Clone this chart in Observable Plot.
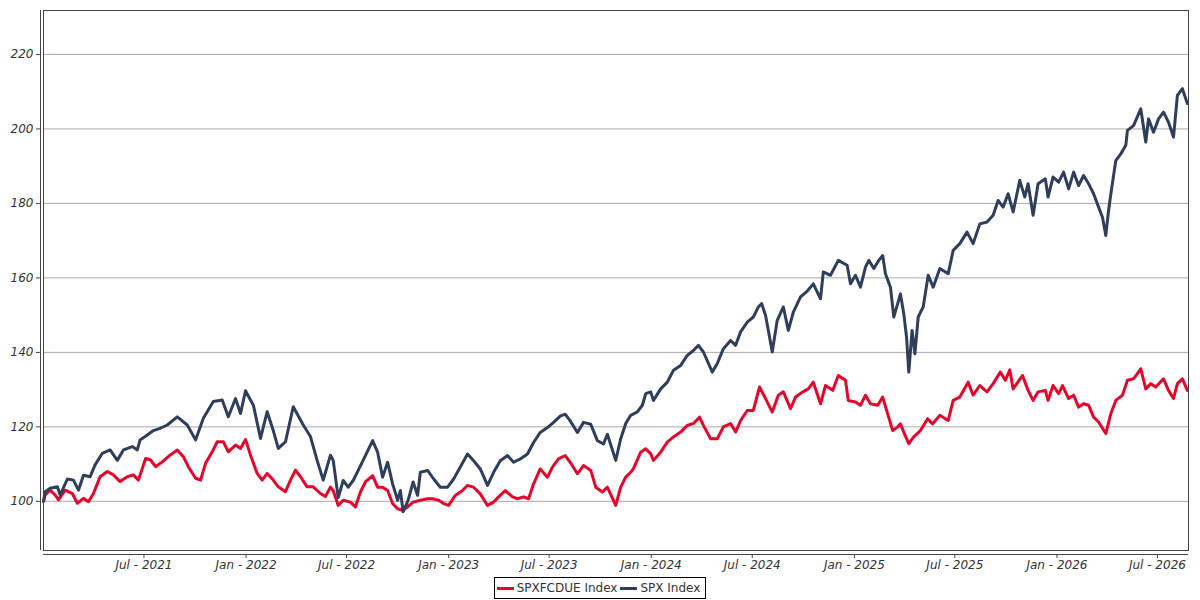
<!DOCTYPE html>
<html><head><meta charset="utf-8">
<script src="https://cdn.jsdelivr.net/npm/d3@7"></script>
<script src="https://cdn.jsdelivr.net/npm/@observablehq/plot@0.6"></script>
<style>
body{margin:0;background:#fff;font-family:"DejaVu Sans",sans-serif;}
#legend{display:flex;justify-content:center;margin-top:3px;}
.box{display:inline-flex;align-items:center;border:1px solid #000;height:20px;padding:0 2px;font-size:12px;color:#333;}
.item{display:inline-flex;align-items:center;margin-right:3px;}
.sw{display:inline-block;width:17px;height:3px;margin-right:3px;}
</style></head><body><div id="chart"></div><div id="legend"></div>
<script>
const seriesNames = ["SPXFCDUE Index", "SPX Index"];
const seriesColors = ["#e2062c", "#2e3e5b"];

const spxDates = ["2021-01-01","2021-01-04","2021-01-13","2021-01-26","2021-01-31","2021-02-13","2021-02-24","2021-03-05","2021-03-14","2021-03-26","2021-04-04","2021-04-17","2021-05-01","2021-05-14","2021-05-25","2021-06-10","2021-06-19","2021-06-24","2021-07-07","2021-07-18","2021-07-30","2021-08-12","2021-08-30","2021-09-17","2021-10-02","2021-10-16","2021-11-03","2021-11-19","2021-11-30","2021-12-13","2021-12-22","2021-12-31",
"2022-01-09","2022-01-14","2022-01-27","2022-02-08","2022-02-19","2022-02-28","2022-03-13","2022-03-27","2022-04-14","2022-04-27","2022-05-09","2022-05-20","2022-06-02","2022-06-07","2022-06-16","2022-06-25","2022-07-04","2022-07-13","2022-07-22","2022-08-04","2022-08-17","2022-08-26","2022-09-04","2022-09-13","2022-09-22","2022-10-01","2022-10-06","2022-10-11","2022-10-20","2022-10-29","2022-11-06","2022-11-11","2022-11-24","2022-12-05","2022-12-17","2022-12-30",
"2023-01-10","2023-01-22","2023-02-04","2023-02-15","2023-02-27","2023-03-12","2023-03-23","2023-04-04","2023-04-17","2023-04-28","2023-05-10","2023-05-23","2023-06-03","2023-06-15","2023-06-28","2023-07-09","2023-07-21","2023-07-30","2023-08-08","2023-08-21","2023-09-01","2023-09-14","2023-09-26","2023-10-07","2023-10-14","2023-10-29","2023-11-07","2023-11-16","2023-11-25","2023-12-07","2023-12-16","2023-12-22","2023-12-31",
"2024-01-05","2024-01-18","2024-01-30","2024-02-10","2024-02-23","2024-03-06","2024-03-17","2024-03-26","2024-04-04","2024-04-20","2024-04-29","2024-05-10","2024-05-23","2024-06-01","2024-06-10","2024-06-22","2024-07-03","2024-07-12","2024-07-18","2024-07-25","2024-07-30","2024-08-06","2024-08-15","2024-08-26","2024-09-04","2024-09-13","2024-09-26","2024-10-09","2024-10-19","2024-11-01","2024-11-06","2024-11-19","2024-12-03","2024-12-19","2024-12-25",
"2025-01-03","2025-01-12","2025-01-21","2025-01-27","2025-02-05","2025-02-14","2025-02-21","2025-02-26","2025-03-07","2025-03-13","2025-03-20","2025-03-25","2025-03-31","2025-04-05","2025-04-09","2025-04-15","2025-04-20","2025-04-26","2025-05-05","2025-05-14","2025-05-23","2025-06-04","2025-06-19","2025-06-28","2025-07-10","2025-07-23","2025-08-03","2025-08-15","2025-08-28","2025-09-08","2025-09-17","2025-09-26","2025-10-05","2025-10-14","2025-10-26","2025-11-04","2025-11-10","2025-11-19","2025-11-28","2025-12-11","2025-12-16","2025-12-25",
"2026-01-04","2026-01-13","2026-01-22","2026-01-31","2026-02-09","2026-02-18","2026-02-27","2026-03-08","2026-03-17","2026-03-24","2026-03-30","2026-04-04","2026-04-09","2026-04-17","2026-04-26","2026-05-05","2026-05-08","2026-05-19","2026-06-01","2026-06-10","2026-06-15","2026-06-24","2026-07-03","2026-07-12","2026-07-21","2026-07-30","2026-08-06","2026-08-15","2026-08-24"];
const spxValues = [100,102.6,103.5,103.9,101.7,106,105.7,103,107,106.6,109.8,112.9,113.8,111,113.8,114.7,113.8,116.5,117.8,119,119.6,120.5,122.7,120.5,116.5,122.3,126.8,127.2,122.7,127.6,123.6,129.7,
127.2,125.9,116.9,124.1,119,114.2,116,125.4,120.5,117.4,111,105.7,112.4,111,101,105.6,103.8,105.6,108.3,112.3,116.3,113.2,106.5,110.5,104.7,100.3,102.9,97.2,100.3,105.2,101.6,107.8,108.3,106,103.8,103.8,
106,109.2,112.7,110.9,108.7,104.3,107.8,110.9,112.3,110.5,111.4,112.7,115.8,118.5,119.8,121.2,122.9,123.4,121.6,118.5,121.2,120.7,116.3,115.4,118,111,116.8,120.9,123.1,124,125.8,128.9,129.4,
127.1,130.2,132,135.2,136.5,139.2,140.5,141.9,140.1,134.7,137,141,143.2,141.9,145.5,148.1,149.5,152.2,153.1,149.9,145.9,140.1,148.6,152.2,145.9,150.8,154.9,156.6,158.4,154.4,161.6,160.7,164.7,163.4,158.4,
160.7,157.5,162.9,164.7,162.5,164.7,166,161.1,157.5,149.5,153.1,155.7,150.4,144.1,134.7,145.9,139.6,149.5,152.2,160.7,157.5,162.5,161.1,167.4,169.2,172.3,169.2,174.5,175,176.8,180.8,179,182.6,177.7,186.2,181.7,185.3,176.8,185.3,186.6,181.7,187.1,
185.7,188.4,183.9,188.4,184.8,187.5,185.3,182.6,179,176.3,171.4,178.1,183.5,191.5,193.3,195.6,199.6,200.9,205.4,196.5,202.7,199.1,202.7,204.5,201.8,197.8,209,210.8,206.8];

const fcdDates = ["2021-01-01","2021-01-04","2021-01-13","2021-01-22","2021-01-28","2021-02-09","2021-02-22","2021-03-03","2021-03-14","2021-03-23","2021-04-01","2021-04-13","2021-04-26","2021-05-07","2021-05-19","2021-06-01","2021-06-12","2021-06-21","2021-07-04","2021-07-13","2021-07-22","2021-08-03","2021-08-17","2021-08-30","2021-09-10","2021-09-19","2021-10-02","2021-10-11","2021-10-20","2021-11-01","2021-11-10","2021-11-21","2021-11-30","2021-12-13","2021-12-22","2021-12-31",
"2022-01-09","2022-01-21","2022-01-30","2022-02-08","2022-02-19","2022-02-28","2022-03-13","2022-03-22","2022-03-31","2022-04-09","2022-04-21","2022-05-02","2022-05-15","2022-05-24","2022-06-02","2022-06-07","2022-06-16","2022-06-25","2022-07-08","2022-07-17","2022-07-26","2022-08-04","2022-08-17","2022-08-26","2022-09-04","2022-09-13","2022-09-22","2022-10-01","2022-10-10","2022-10-19","2022-10-29","2022-11-11","2022-11-24","2022-12-03","2022-12-14","2022-12-23",
"2023-01-01","2023-01-13","2023-01-26","2023-02-04","2023-02-15","2023-02-27","2023-03-12","2023-03-23","2023-04-01","2023-04-13","2023-04-26","2023-05-05","2023-05-16","2023-05-25","2023-06-03","2023-06-15","2023-06-28","2023-07-07","2023-07-18","2023-07-30","2023-08-08","2023-08-21","2023-09-01","2023-09-14","2023-09-23","2023-10-05","2023-10-14","2023-10-29","2023-11-07","2023-11-16","2023-11-25","2023-11-30","2023-12-13","2023-12-22","2023-12-31",
"2024-01-05","2024-01-18","2024-01-30","2024-02-10","2024-02-23","2024-03-06","2024-03-17","2024-03-28","2024-04-04","2024-04-17","2024-04-29","2024-05-10","2024-05-23","2024-06-01","2024-06-10","2024-06-22","2024-07-03","2024-07-14","2024-07-25","2024-08-06","2024-08-17","2024-08-26","2024-09-08","2024-09-17","2024-09-30","2024-10-10","2024-10-19","2024-11-01","2024-11-10","2024-11-23","2024-12-03","2024-12-16","2024-12-21",
"2025-01-03","2025-01-12","2025-01-21","2025-01-30","2025-02-12","2025-02-21","2025-03-02","2025-03-11","2025-03-20","2025-03-25","2025-03-31","2025-04-09","2025-04-18","2025-04-30","2025-05-13","2025-05-22","2025-06-04","2025-06-19","2025-06-28","2025-07-10","2025-07-25","2025-08-03","2025-08-15","2025-08-28","2025-09-08","2025-09-21","2025-09-30","2025-10-08","2025-10-14","2025-10-31","2025-11-10","2025-11-19","2025-11-28","2025-12-11","2025-12-16","2025-12-25",
"2026-01-04","2026-01-11","2026-01-22","2026-01-31","2026-02-09","2026-02-18","2026-02-27","2026-03-08","2026-03-17","2026-03-30","2026-04-08","2026-04-17","2026-04-29","2026-05-08","2026-05-19","2026-06-01","2026-06-10","2026-06-19","2026-06-28","2026-07-12","2026-07-21","2026-07-30","2026-08-06","2026-08-15","2026-08-24"];
const fcdValues = [100,101.7,103,101.7,100.4,103,102.1,99.5,100.8,99.9,102.1,106.6,108,107.1,105.3,106.6,107.1,105.7,111.5,111.1,109.3,110.6,112.4,113.8,112,109.3,106.2,105.7,110.2,113.3,116,116,113.3,115.1,114.2,116.6,
112.4,107.5,105.7,107.5,105.7,103.9,102.6,105.7,108.4,106.6,103.9,103.9,102.1,101.3,103.8,102.9,98.9,100.3,99.8,98.5,102.5,105.2,106.9,103.8,103.8,102.9,99.4,98,97.6,98.5,99.8,100.3,100.7,100.7,100.3,99.4,
98.9,101.6,102.9,104.3,103.8,102,98.9,99.8,101.2,102.9,101.2,100.7,101.2,100.7,104.7,108.7,106.5,109.2,111.4,112.3,110.5,107.4,109.6,108.3,103.8,102.5,103.8,98.9,103.8,106.5,107.8,108.8,113.2,114.1,112.8,
111,113.2,115.9,117.3,118.6,120.4,120.9,122.6,120.4,116.8,116.8,120,120.9,118.6,121.7,124.4,124.4,130.7,127.6,124,128.5,129.4,124.9,128,129.4,130.2,132,126.2,131.1,129.8,133.8,132.5,127.1,
126.7,125.8,128.5,126.2,125.8,128,123.5,119,120,120.8,118.6,115.5,117.3,119,122.2,120.8,123.1,121.7,127.1,128,132,128.5,131.1,129.4,131.6,134.7,132.5,135.3,130.2,133.8,129.8,127.1,129.4,129.8,127.1,131.1,
128.9,131.1,127.6,128.5,125.3,126.2,125.8,122.6,121.3,118.2,123.5,127.1,128.5,132.5,132.9,135.6,130.2,131.6,130.7,132.9,129.8,127.6,131.6,132.9,129.8];

const xDomain = ["2021-01-01", "2026-08-26"];
const yDomain = [86.8, 231.8];
const yTicks = [100, 120, 140, 160, 180, 200, 220];
const xTicks = ["2021-07-01","2022-01-01","2022-07-01","2023-01-01","2023-07-01","2024-01-01","2024-07-01","2025-01-01","2025-07-01","2026-01-01","2026-07-01"];

const parse = d3.utcParse("%Y-%m-%d");
const data = [
  ...fcdDates.map((d, i) => ({date: parse(d), value: fcdValues[i], series: seriesNames[0]})),
  ...spxDates.map((d, i) => ({date: parse(d), value: spxValues[i], series: seriesNames[1]}))
];
const xd = xDomain.map(parse);
const fmt = d3.utcFormat("%b - %Y");

const chart = Plot.plot({
  width: 1200,
  height: 574,
  marginLeft: 43,
  marginRight: 12,
  marginTop: 10,
  marginBottom: 24,
  style: {fontFamily: "DejaVu Sans, sans-serif", fontSize: "12px", color: "#333", background: "#fff"},
  x: {type: "utc", domain: xd},
  y: {domain: yDomain},
  color: {domain: seriesNames, range: seriesColors},
  marks: [
    Plot.gridY(yTicks, {stroke: "#aaa", strokeOpacity: 1}),
    Plot.line(data, {x: "date", y: "value", z: "series", stroke: "series", strokeWidth: 3, strokeLinejoin: "round"}),
    Plot.frame({stroke: "#444", strokeWidth: 1}),
    Plot.ruleX([xd[0]], {dx: -3, stroke: "#444"}),
    Plot.ruleY([yDomain[0]], {dy: 4, stroke: "#444"}),
    Plot.axisY(yTicks, {dx: -3, tickSize: 4, tickPadding: 3, fontStyle: "italic", fill: "#333", stroke: "#444", tickFormat: d => String(d), label: null}),
    Plot.axisX(xTicks.map(parse), {dy: 4, tickSize: 4, tickPadding: 2, fontStyle: "italic", fill: "#333", stroke: "#444", tickFormat: fmt, label: null})
  ]
});
document.getElementById("chart").appendChild(chart);

const box = document.createElement("div");
box.className = "box";
seriesNames.forEach((n, i) => {
  const it = document.createElement("span");
  it.className = "item";
  const sw = document.createElement("span");
  sw.className = "sw";
  sw.style.background = seriesColors[i];
  it.appendChild(sw);
  it.appendChild(document.createTextNode(n));
  box.appendChild(it);
});
document.getElementById("legend").appendChild(box);
</script></body></html>
